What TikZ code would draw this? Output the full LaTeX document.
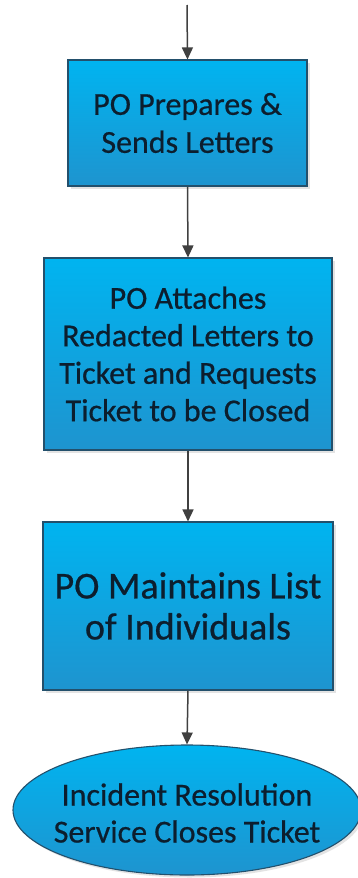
\documentclass[tikz,border=0pt]{standalone}
\usepackage{fontspec}
\setmainfont{Carlito}
\newfontfamily\boxfont{Carlito}[FakeBold=0.6]
\usetikzlibrary{arrows.meta,shapes.geometric,shadows}
\definecolor{boxtop}{HTML}{00B4F0}
\definecolor{boxbot}{HTML}{1E94CF}
\definecolor{boxline}{HTML}{23506C}
\definecolor{flowline}{HTML}{404040}
\definecolor{inktext}{HTML}{0C1E2E}
\tikzset{
  softshadow/.style={drop shadow={opacity=0.18, shadow xshift=2.5pt,
    shadow yshift=-2.5pt, fill=black!60}},
  stepbox/.style={rectangle, draw=boxline, line width=1.1pt,
    top color=boxtop, bottom color=boxbot, align=center,
    text=inktext, inner sep=0pt, softshadow},
  endcap/.style={ellipse, draw=boxline, line width=1.1pt,
    top color=boxtop, bottom color=boxbot, inner sep=0pt, softshadow},
  captext/.style={align=center, text=inktext, inner sep=0pt},
  flow/.style={draw=flowline, line width=1.5pt,
    -{Triangle[width=11pt,length=12pt]}},
}
\begin{document}
\begin{tikzpicture}[x=1pt,y=-1pt]
  \useasboundingbox (0,0) rectangle (357,878);
  \fill[white] (0,0) rectangle (357,878);

  \coordinate (start) at (187,5);

  \node[stepbox, minimum width=239pt, minimum height=126pt,
        font=\boxfont\fontsize{32}{38}\selectfont] (prep) at (187.5,123)
    {PO Prepares \&\\Sends Letters};

  \node[stepbox, minimum width=288pt, minimum height=192pt,
        font=\boxfont\fontsize{32}{37.5}\selectfont] (attach) at (188,354)
    {PO Attaches\\Redacted Letters to\\Ticket and Requests\\Ticket to be Closed};

  \node[stepbox, minimum width=290pt, minimum height=168pt,
        font=\boxfont\fontsize{38}{41}\selectfont] (keep) at (188,606)
    {PO Maintains List\\of Individuals};

  \node[endcap, minimum width=348pt, minimum height=130pt] (close) at (187,810) {};
  \node[captext, font=\boxfont\fontsize{32}{37}\selectfont] (closetext) at (187,813)
    {Incident Resolution\\Service Closes Ticket};

  \draw[flow] (start) -- (prep.north);
  \draw[flow] (prep.south) -- (attach.north);
  \draw[flow] (attach.south) -- (keep.north);
  \draw[flow] (keep.south) -- (close.north);
\end{tikzpicture}
\end{document}
